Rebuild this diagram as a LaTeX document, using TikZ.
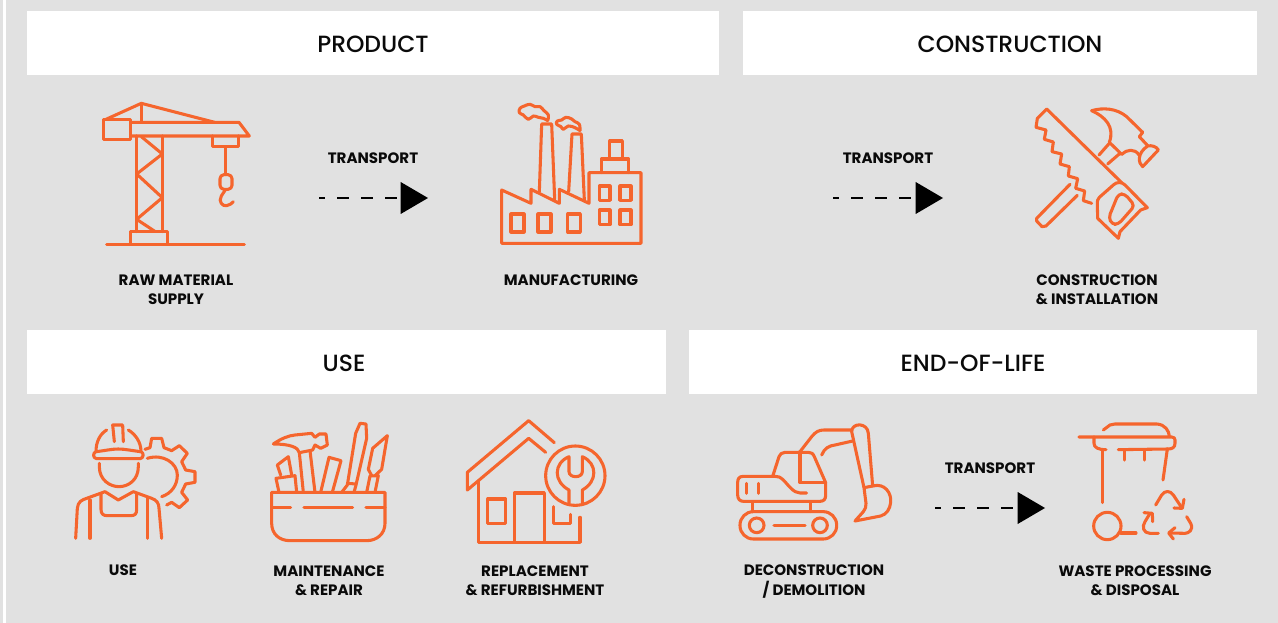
\documentclass[tikz,border=0pt]{standalone}
\usepackage{fontspec}
\setmainfont{Poppins}
\newfontfamily\headfont{Poppins Medium}
\usetikzlibrary{arrows.meta}
\definecolor{bggrey}{HTML}{E1E1E1}
\definecolor{iconorange}{HTML}{F5652D}
\definecolor{ink}{HTML}{0A0A0A}
\tikzset{
  headtext/.style={text=ink,inner sep=0pt,font=\headfont\fontsize{17.6}{20}\selectfont},
  header/.style={fill=white,inner sep=0pt,minimum height=48pt},
  caption/.style={align=center,text=ink,inner sep=0pt,font=\fontsize{11.3}{14}\selectfont\bfseries},
  transportline/.style={black,line width=2.2pt,dash pattern=on 9pt off 9pt,dash phase=4.5pt,-{Triangle[length=20.5pt,width=24pt,line width=0pt,sep=0pt]}},
  iconat/.style 2 args={shift={(#1,#2)},x=.25pt,y=-.25pt,iconorange,line width=2.3pt,line join=round,line cap=round},
}
\begin{document}
\begin{tikzpicture}[x=.75pt,y=-.75pt]
\useasboundingbox (0,0) rectangle (1278,623);
\fill[bggrey] (0,0) rectangle (1278,623);
\fill[white] (3,0) rectangle (6,623);
% headers
\node[header,minimum width=519pt] (hproduct) at (373,43) {};
\node[header,minimum width=385.5pt] (hconstruction) at (1000,43) {};
\node[header,minimum width=479.25pt] (huse) at (346.5,362) {};
\node[header,minimum width=426pt] (heol) at (973,362) {};
\node[headtext] (tproduct) at (373,44) {PRODUCT};
\node[headtext] (tconstruction) at (1010,44) {CONSTRUCTION};
\node[headtext] (tuse) at (344,363) {USE};
\node[headtext] (teol) at (973,363) {END-OF-LIFE};
% captions
\node[caption] (craw) at (176,289.5) {RAW MATERIAL\\SUPPLY};
\node[caption] (cman) at (571,280.5) {MANUFACTURING};
\node[caption] (ccon) at (1097,289.5) {CONSTRUCTION\\\&~INSTALLATION};
\node[caption] (cuse) at (123,570) {USE};
\node[caption] (cmai) at (329,580.5) {MAINTENANCE\\\&~REPAIR};
\node[caption] (crep) at (535,580.5) {REPLACEMENT\\\&~REFURBISHMENT};
\node[caption] (cdec) at (814,581.5) {DECONSTRUCTION\\[.5pt]/~DEMOLITION};
\node[caption] (cwas) at (1135,580.5) {WASTE PROCESSING\\\&~DISPOSAL};
% transport
\node[caption] (t1) at (373,158.5) {TRANSPORT};
\node[caption] (t2) at (888,158.5) {TRANSPORT};
\node[caption] (t3) at (990,468.5) {TRANSPORT};
\coordinate (a1s) at (319,198); \coordinate (a1e) at (428,198);
\coordinate (a2s) at (833,198); \coordinate (a2e) at (943,198);
\coordinate (a3s) at (935,508); \coordinate (a3e) at (1045,508);
\draw[transportline] (a1s) -- (a1e);
\draw[transportline] (a2s) -- (a2e);
\draw[transportline] (a3s) -- (a3e);
% crane
\begin{scope}[iconat={80}{90}]
\draw (71,88) rectangle (152,148);
\draw (152,97) -- (477,97) -- (508,138) -- (152,138);
\draw (78,88) -- (184,40) -- (404,97);
\draw (184,40) -- (184,97);
\draw (170,138) -- (170,425);
\draw (247,138) -- (247,425);
\draw (184,140) -- (247,192) -- (170,252) -- (247,323) -- (170,388) -- (226,425);
\draw (152,425) rectangle (262,463);
\draw (80,463) -- (493,463);
\draw (397,138) -- (397,170) -- (475,170) -- (475,138);
\draw (437,170) -- (437,254);
\draw[rounded corners=3pt] (420,254) rectangle (456,298);
\draw (437,298) -- (424,318) .. controls (414,335) and (428,350) .. (440,347) .. controls (450,345) and (456,340) .. (460,335);
\end{scope}
% factory
\begin{scope}[iconat={480}{90}]
\draw (65,460) -- (65,300) -- (153,340) -- (153,298) -- (238,340) -- (238,298) -- (327,340) -- (327,248) -- (483,248) -- (483,460) -- cycle;
\draw (178,305) -- (185,102) -- (215,102) -- (224,328);
\draw (266,305) -- (276,132) -- (304,132) -- (313,330);
\draw (93,372) rectangle (132,426);
\draw (174,372) rectangle (213,426);
\draw (263,372) rectangle (301,426);
\draw (358,288) rectangle (390,331);
\draw (420,288) rectangle (453,331);
\draw (358,360) rectangle (390,404);
\draw (420,360) rectangle (453,404);
\draw (364,248) -- (364,207) -- (446,207) -- (446,248);
\draw (389,207) -- (389,153) -- (427,153) -- (427,207);
\draw plot[smooth,tension=.7] coordinates {(203,92) (205,75) (192,62) (180,50) (165,50) (150,43) (133,48) (120,55) (118,68) (130,75) (145,88) (160,78) (175,82) (190,85) (203,92)};
\draw plot[smooth,tension=.7] coordinates {(300,122) (298,103) (285,95) (275,87) (258,82) (245,90) (232,93) (230,103) (243,110) (250,118) (265,108) (285,113) (300,122)};
\end{scope}
% tools
\begin{scope}[iconat={1010}{90}]
\draw (245,340) -- (220,332) -- (224,303) -- (197,295) -- (203,266) -- (175,258) -- (178,230) -- (150,222) -- (155,192) -- (126,185) -- (130,156) -- (103,148) -- (108,120) -- (78,112) -- (82,85) -- (110,57) -- (335,278);
\draw (268,322) .. controls (262,328) and (262,332) .. (262,345) -- (263,385) -- (325,445) -- (330,425) -- (392,360) -- (412,353) -- (345,285) .. controls (335,275) and (320,275) .. (310,285) -- cycle;
\draw[rounded corners=3pt] (325,312) -- (345,312) -- (374,347) -- (325,403) -- (306,403) -- (296,383) -- cycle;
\draw (180,283) -- (80,385) -- (80,393) -- (96,410) -- (108,408) -- (202,316);
\draw (267,195) -- (298,160);
\draw (293,222) -- (330,190);
\draw (298,157) -- (335,193);
\draw (245,62) .. controls (280,52) and (320,55) .. (350,80) -- (398,127) -- (388,140) -- (413,167);
\draw (413,168) .. controls (425,165) and (440,170) .. (445,180) -- (398,230) .. controls (385,220) and (380,190) .. (413,168);
\draw (245,62) .. controls (285,80) and (315,110) .. (298,157);
\draw (335,193) .. controls (350,178) and (375,175) .. (387,195);
\end{scope}
% worker
\begin{scope}[iconat={60}{410}]
\draw (140,60) .. controls (120,72) and (108,95) .. (108,125);
\draw (205,60) .. controls (225,72) and (243,95) .. (243,125);
\draw (163,95) -- (158,45) -- (188,45) -- (190,95);
\draw (108,125) .. controls (135,122) and (155,117) .. (175,117) .. controls (195,117) and (215,122) .. (243,125) .. controls (252,128) and (252,145) .. (240,146) -- (110,146) .. controls (98,145) and (98,128) .. (108,125);
\draw (118,160) -- (118,170) .. controls (118,210) and (150,230) .. (177,230) .. controls (205,230) and (235,210) .. (235,170) -- (235,160);
\draw (47,385) -- (52,295) .. controls (54,275) and (65,270) .. (80,265) -- (135,245) -- (175,270) -- (220,245) -- (275,265) .. controls (290,270) and (297,280) .. (297,295) -- (305,385);
\draw (90,270) -- (90,385);
\draw (262,265) -- (262,385);
\draw (123,252) -- (123,298) .. controls (123,312) and (130,317) .. (142,317) -- (212,317) .. controls (225,317) and (230,312) .. (230,298) -- (230,250);
\draw (262,145) .. controls (310,130) and (352,160) .. (352,195) .. controls (352,225) and (335,250) .. (305,260);
\draw (255,118) -- (270,113) -- (275,85) -- (305,85) -- (312,113) -- (335,122) -- (358,107) -- (382,130) -- (365,155) -- (377,180) -- (405,185) -- (405,217) -- (377,222) -- (365,247) -- (383,270) -- (358,293) -- (335,277) -- (320,285);
\end{scope}
% toolbox
\begin{scope}[iconat={260}{410}]
\draw (35,247) -- (375,247) -- (375,340) .. controls (375,372) and (350,392) .. (320,392) -- (90,392) .. controls (58,392) and (35,372) .. (35,340) -- cycle;
\draw (35,292) -- (92,292);
\draw (132,292) -- (278,292);
\draw (318,292) -- (375,292);
\draw (40,102) .. controls (65,85) and (85,77) .. (105,75) -- (155,70) -- (165,82) -- (178,72) -- (198,72) -- (202,105) -- (182,115) -- (165,105) -- (158,120) -- (118,128) .. controls (115,112) and (90,102) .. (40,102);
\draw (118,128) -- (130,247);
\draw (150,122) -- (165,247);
\draw (62,195) -- (52,165) -- (85,140) -- (95,195);
\draw (57,247) -- (48,205) -- (105,197) -- (110,247);
\draw (182,247) -- (207,142) -- (243,152) -- (217,247);
\draw (245,247) -- (262,225) -- (287,70) -- (300,40) -- (318,42) -- (320,85) -- (288,225) -- (282,247);
\draw (262,220) -- (288,222);
\draw (320,247) -- (330,198) -- (355,197) -- (345,247);
\draw (335,197) -- (325,178) -- (338,115) -- (382,77) -- (365,178) -- (345,197);
\end{scope}
% house
\begin{scope}[iconat={455}{410}]
\draw (298,98) -- (221,32) -- (37,187) -- (37,240) -- (221,85) -- (272,127);
\draw (70,215) -- (70,397) -- (375,397) -- (375,322);
\draw (178,397) -- (178,249) -- (268,249) -- (268,397);
\draw (98,267) rectangle (152,340);
\draw (295,290) -- (295,340) -- (347,340) -- (347,313);
\draw (361,197) circle[radius=89];
\draw (342,280) -- (342,240) .. controls (295,215) and (295,160) .. (342,140) -- (342,185) .. controls (342,205) and (382,205) .. (382,185) -- (382,140) .. controls (428,160) and (428,215) .. (382,240) -- (382,280);
\end{scope}
% excavator
\begin{scope}[iconat={725}{415}]
\draw[rounded corners=10pt] (45,290) rectangle (335,372);
\draw (95,331) circle[radius=22];
\draw (285,331) circle[radius=22];
\draw (147,331) -- (240,331);
\draw (83,260) -- (83,290);
\draw (257,260) -- (257,290);
\draw (245,234) -- (225,234) .. controls (205,234) and (190,210) .. (175,195) .. controls (165,186) and (160,184) .. (150,184) -- (55,184) .. controls (42,184) and (38,192) .. (38,202) -- (38,240) .. controls (38,252) and (45,259) .. (55,259) -- (285,259) .. controls (297,259) and (302,252) .. (302,240) -- (302,203) -- (268,125) .. controls (264,115) and (258,112) .. (250,112) -- (180,112) .. controls (170,112) and (165,118) .. (162,125) -- (143,184);
\draw (225,110) -- (225,203) -- (302,203);
\draw (65,205) -- (65,235);
\draw (100,205) -- (100,235);
\draw (225,110) -- (260,65) .. controls (272,50) and (282,45) .. (297,45) -- (380,45);
\draw (290,120) .. controls (298,100) and (312,92) .. (330,90) -- (383,78);
\draw (417,218) -- (380,50) .. controls (380,22) and (428,22) .. (430,55) -- (443,213);
\draw (417,218) -- (443,213) .. controls (480,203) and (500,235) .. (497,262) .. controls (495,282) and (485,298) .. (467,303) -- (390,318) -- (415,290) .. controls (422,282) and (423,275) .. (423,265) -- (417,218);
\end{scope}
% bin
\begin{scope}[iconat={1070}{415}]
\draw (100,45) -- (120,30) .. controls (125,27) and (130,27) .. (135,27) -- (260,27) .. controls (285,28) and (298,48) .. (298,65);
\draw (27,66) -- (305,66) .. controls (312,66) and (315,70) .. (315,75) -- (315,85) .. controls (315,96) and (308,102) .. (295,102) -- (145,104);
\draw (72,66) -- (72,85) .. controls (72,98) and (85,104) .. (108,104);
\draw (163,104) -- (163,135);
\draw (223,104) -- (223,135);
\draw (97,104) -- (97,263);
\draw (292,102) -- (279,195);
\draw (112,333) circle[radius=41];
\draw (152,354) -- (198,354);
\draw (257,270) -- (275,240) .. controls (285,226) and (300,226) .. (310,240) -- (335,278);
\draw (342,253) -- (337,280) -- (312,279);
\draw (350,305) -- (362,325) .. controls (372,345) and (355,355) .. (345,355) -- (298,354);
\draw (315,338) -- (296,354) -- (310,372);
\draw (265,355) -- (240,355) .. controls (220,355) and (215,335) .. (225,320) -- (240,295);
\draw (222,293) -- (247,295) -- (248,320);
\end{scope}
\end{tikzpicture}
\end{document}
